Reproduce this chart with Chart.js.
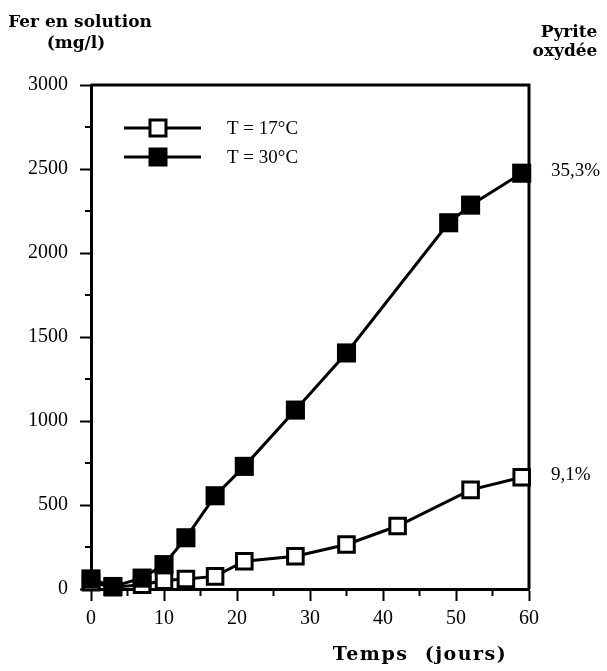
<!DOCTYPE html>
<html>
<head>
<meta charset="utf-8">
<script src="https://cdn.jsdelivr.net/npm/chart.js@4/dist/chart.umd.min.js"></script>
<style>
  body { margin: 0; background: #fff; }
  canvas { display: block; }
</style>
</head>
<body>
<canvas id="ironChart" width="607" height="671" style="width:607px;height:671px"></canvas>
<script>
// Days of sampling for each series
const days17 = [0, 3, 7, 10, 13, 17, 21, 28, 35, 42, 52, 59];
const iron17 = [40, 10, 25, 50, 60, 75, 165, 195, 265, 375, 590, 665];   // mg/l at T = 17°C

const days30 = [0, 3, 7, 10, 13, 17, 21, 28, 35, 49, 52, 59];
const iron30 = [60, 15, 65, 145, 305, 555, 730, 1065, 1405, 2180, 2285, 2475]; // mg/l at T = 30°C

const seriesLabels = ['T = 17°C', 'T = 30°C'];
const oxidised = ['9,1%', '35,3%']; // pyrite oxydée at the end

const serif = '"Liberation Serif", "DejaVu Serif", serif';
const boldSerif = '"DejaVu Serif", serif';

function toPoints(xs, ys) {
    return xs.map((x, i) => ({ x: x, y: ys[i] }));
}

// minor ticks, frame, texts and legend
const decorPlugin = {
    id: 'decor',
    beforeDatasetsDraw(chart) {
        const ctx = chart.ctx;
        const a = chart.chartArea;
        const xs = chart.scales.x, ys = chart.scales.y;
        ctx.save();
        ctx.strokeStyle = '#000';
        ctx.lineWidth = 3;
        // top and right edges of the frame
        ctx.beginPath();
        ctx.moveTo(a.left, a.top);
        ctx.lineTo(a.right, a.top);
        ctx.lineTo(a.right, a.bottom);
        ctx.stroke();
        // minor ticks
        ctx.lineWidth = 2;
        for (let v = 250; v < 3000; v += 500) {
            const py = ys.getPixelForValue(v);
            ctx.beginPath();
            ctx.moveTo(a.left - 6, py);
            ctx.lineTo(a.left, py);
            ctx.stroke();
        }
        for (let d = 5; d < 60; d += 10) {
            const px = xs.getPixelForValue(d);
            ctx.beginPath();
            ctx.moveTo(px, a.bottom);
            ctx.lineTo(px, a.bottom + 7);
            ctx.stroke();
        }
        ctx.restore();
    },
    afterDraw(chart) {
        const ctx = chart.ctx;
        const a = chart.chartArea;
        ctx.save();
        ctx.fillStyle = '#000';
        ctx.textBaseline = 'middle';

        // axis titles
        ctx.font = 'bold 17px ' + boldSerif;
        ctx.textAlign = 'center';
        ctx.fillText('Fer en solution', 80, 23);
        ctx.fillText('(mg/l)', 76, 44);
        ctx.fillText('Pyrite', 569, 33);
        ctx.fillText('oxydée', 565, 52);
        ctx.font = 'bold 19px ' + boldSerif;
        ctx.letterSpacing = '1.5px';
        ctx.fillText('Temps  (jours)', 420, 655);
        ctx.letterSpacing = '0px';

        // end-of-run percentages next to the last points
        ctx.font = '19px ' + serif;
        ctx.textAlign = 'left';
        chart.data.datasets.forEach((ds, i) => {
            const meta = chart.getDatasetMeta(i);
            const last = meta.data[meta.data.length - 1];
            ctx.fillText(oxidised[i], a.right + 22, last.y - 2);
        });

        // legend
        const rows = [128, 157];
        chart.data.datasets.forEach((ds, i) => {
            const y = rows[i];
            ctx.strokeStyle = '#000';
            ctx.lineWidth = 3;
            ctx.beginPath();
            ctx.moveTo(a.left + 33, y);
            ctx.lineTo(a.left + 110, y);
            ctx.stroke();
            const s = i === 0 ? 16 : 19;
            const cx = a.left + 67;
            if (i === 0) {
                ctx.fillStyle = '#fff';
                ctx.fillRect(cx - s / 2, y - s / 2, s, s);
                ctx.strokeRect(cx - s / 2, y - s / 2, s, s);
            } else {
                ctx.fillStyle = '#000';
                ctx.fillRect(cx - s / 2, y - s / 2, s, s);
            }
            ctx.fillStyle = '#000';
            ctx.font = '19px ' + serif;
            ctx.fillText(ds.label, a.left + 136, y + 1);
        });
        ctx.restore();
    }
};

const ctx = document.getElementById('ironChart').getContext('2d');

new Chart(ctx, {
    type: 'line',
    data: {
        datasets: [{
            label: seriesLabels[0],
            data: toPoints(days17, iron17),
            borderColor: '#000',
            borderWidth: 3,
            pointStyle: 'rect',
            pointRadius: 11,
            pointBorderWidth: 3,
            pointBackgroundColor: '#fff',
            pointBorderColor: '#000',
            clip: false,
            order: 2
        }, {
            label: seriesLabels[1],
            data: toPoints(days30, iron30),
            borderColor: '#000',
            borderWidth: 3,
            pointStyle: 'rect',
            pointRadius: 13.5,
            pointBorderWidth: 0,
            pointBackgroundColor: '#000',
            pointBorderColor: '#000',
            clip: false,
            order: 1
        }]
    },
    options: {
        responsive: false,
        animation: false,
        layout: { padding: { left: 0, right: 78, top: 85, bottom: 0 } },
        plugins: {
            legend: { display: false },
            tooltip: { enabled: false }
        },
        scales: {
            x: {
                type: 'linear',
                min: 0,
                max: 60,
                ticks: { stepSize: 10, color: '#000', padding: 6, font: { family: serif, size: 20 } },
                grid: { drawOnChartArea: false, drawTicks: true, tickLength: 12, tickWidth: 2, tickColor: '#000' },
                border: { display: true, color: '#000', width: 3 },
                afterFit(scale) { scale.height = 82; }
            },
            y: {
                min: 0,
                max: 3000,
                ticks: {
                    stepSize: 500, color: '#000', padding: 12,
                    font: { family: serif, size: 20 },
                    callback: v => String(v)
                },
                grid: { drawOnChartArea: false, drawTicks: true, tickLength: 11, tickWidth: 2, tickColor: '#000' },
                border: { display: true, color: '#000', width: 3 },
                afterFit(scale) { scale.width = 91; }
            }
        }
    },
    plugins: [decorPlugin]
});
</script>
</body>
</html>
